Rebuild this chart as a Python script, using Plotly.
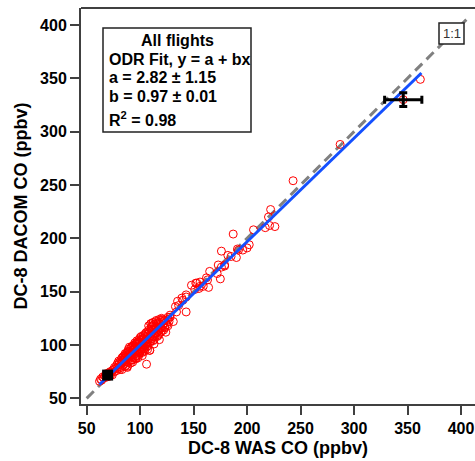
import plotly.graph_objects as go

# ---------------- data ----------------
WAS_CO = [
    62, 63, 64, 65, 66, 67, 68, 69, 70, 71, 72, 72,
    73, 74, 74, 75, 76, 76, 77, 78, 78, 79, 79, 80, 80, 80,
    81, 81, 82, 82, 83, 83, 84, 84, 85, 85, 85, 81,
    86, 86, 86, 87, 87, 87, 88, 88, 88, 89, 89, 89, 90, 90, 90, 90, 86, 88,
    91, 91, 91, 92, 92, 92, 93, 93, 93, 94, 94, 94, 95, 95, 95, 95, 91, 93,
    96, 96, 96, 97, 97, 97, 98, 98, 98, 99, 99, 99, 100, 100, 100, 100, 96, 98,
    101, 101, 101, 102, 102, 102, 103, 103, 103, 104, 104, 104, 105, 105, 105, 102, 104,
    106, 106, 106, 107, 107, 107, 108, 108, 108, 109, 109, 109, 110, 110, 110, 110, 107, 109,
    111, 111, 111, 112, 112, 112, 113, 113, 114, 114, 114, 115, 115, 115, 113,
    116, 116, 117, 117, 117, 118, 118, 118, 119, 119, 120, 120, 120, 116,
    121, 122, 122, 123, 123, 124, 125, 126, 127, 128, 124, 126,
    84, 87, 89, 92, 94, 97, 99, 101, 103, 105, 108, 111, 113, 116, 119, 121,
    83, 88, 93, 96, 100, 104, 106, 112, 117, 120, 123, 90, 95, 98, 102, 107,
    106, 109, 118, 122, 110, 112, 115, 126, 128, 131, 133, 134, 135, 136, 139, 140,
    143, 143, 143, 148, 151, 152, 153, 155, 156, 156, 159, 162, 163, 164, 165, 172,
    173, 175, 176, 176, 179, 179, 182, 185, 187, 190, 191, 192, 196, 200, 202, 206,
    217, 220, 221, 222, 226, 243, 287, 346, 362,
]
DACOM_CO = [
    66, 68, 67, 70, 69, 71, 73, 70, 72, 74, 71, 75,
    74, 76, 72, 77, 75, 79, 78, 76, 81, 79, 83, 78, 82, 85,
    80, 84, 86, 79, 83, 88, 81, 85, 87, 82, 90, 77,
    84, 88, 92, 86, 90, 81, 89, 84, 93, 87, 91, 96, 85, 89, 94, 98, 80, 79,
    88, 92, 97, 90, 95, 86, 93, 99, 89, 91, 96, 100, 88, 94, 98, 102, 83, 84,
    92, 97, 101, 95, 90, 104, 93, 99, 103, 96, 101, 91, 94, 98, 103, 107, 87, 88,
    96, 100, 105, 98, 103, 93, 100, 106, 96, 102, 108, 97, 99, 104, 110, 90, 94,
    101, 106, 112, 103, 108, 99, 105, 111, 118, 102, 107, 113, 104, 109, 115, 120, 96, 95,
    106, 112, 118, 108, 114, 121, 110, 105, 112, 117, 108, 111, 116, 122, 101,
    113, 118, 110, 115, 121, 114, 120, 124, 112, 117, 116, 121, 125, 108,
    118, 120, 114, 117, 123, 121, 119, 124, 122, 126, 112, 118,
    89, 92, 94, 98, 99, 102, 105, 108, 109, 111, 114, 117, 119, 120, 123, 124,
    77, 80, 86, 88, 93, 95, 98, 104, 109, 113, 116, 92, 97, 101, 106, 110,
    82, 95, 105, 123, 120, 121, 123, 126, 128, 122, 136, 131, 141, 137, 144, 142,
    131, 145, 147, 156, 152, 158, 158, 153, 159, 155, 155, 163, 161, 154, 169, 167,
    175, 162, 188, 173, 175, 174, 184, 183, 204, 182, 190, 189, 189, 191, 194, 208,
    210, 220, 212, 227, 211, 254, 288, 330, 349,
]

# ODR fit parameters, 1:1 reference, background marker and error-bar point
FIT_A = 2.82
FIT_B = 0.97
FIT_X = [62, 363]
ONE_TO_ONE = [50, 405]
BG_X = [69.6]
BG_Y = [71.8]
ERR_X = [346]
ERR_Y = [330]
ERR_DX = [17.4]
ERR_DY = [6.5]

X_TICKS = [50, 100, 150, 200, 250, 300, 350, 400]
Y_TICKS = [50, 100, 150, 200, 250, 300, 350, 400]

# ---------------- figure ----------------
W, H = 475, 461
ML, MR, MT, MB = 81, 0, 8, 57
PW, PH = W - ML - MR, H - MT - MB


def px(xp):
    return (xp - ML) / PW


def py(yp):
    return (H - MB - yp) / PH


FONT = "Liberation Sans, Arial, Helvetica, sans-serif"
AX = "#404040"

fig = go.Figure()

fig.add_trace(go.Scatter(
    x=ONE_TO_ONE, y=ONE_TO_ONE, mode="lines",
    line=dict(color="#808080", width=3, dash="10px,6px"),
    hoverinfo="skip", showlegend=False))

fig.add_trace(go.Scatter(
    x=WAS_CO, y=DACOM_CO, mode="markers",
    marker=dict(symbol="circle-open", size=8, color="#ff0000",
                line=dict(width=1, color="#ff0000")),
    showlegend=False))

fig.add_trace(go.Scatter(
    x=FIT_X, y=[FIT_A + FIT_B * v for v in FIT_X], mode="lines",
    line=dict(color="#1450ff", width=3),
    showlegend=False))

fig.add_trace(go.Scatter(
    x=BG_X, y=BG_Y, mode="markers",
    marker=dict(symbol="square", size=11, color="black"),
    showlegend=False))

fig.add_trace(go.Scatter(
    x=ERR_X, y=ERR_Y, mode="markers",
    marker=dict(size=1, color="black", opacity=0),
    error_x=dict(type="data", array=ERR_DX, color="black", thickness=3, width=4),
    error_y=dict(type="data", array=ERR_DY, color="black", thickness=3, width=4),
    showlegend=False))

axis_common = dict(
    showgrid=False, zeroline=False, showline=True, linecolor=AX, linewidth=2,
    ticks="outside", ticklen=9, tickwidth=2, tickcolor=AX,
    tickfont=dict(family=FONT, size=16, color="black", weight="bold"),
    mirror=False,
)

fig.update_layout(
    width=W, height=H,
    margin=dict(l=ML, r=MR, t=MT, b=MB, pad=0),
    plot_bgcolor="white", paper_bgcolor="white",
    xaxis=dict(range=[44.7, 413.1], tickvals=X_TICKS, **axis_common,
               title=dict(text="DC-8 WAS CO (ppbv)", standoff=5,
                          font=dict(family=FONT, size=18, color="black", weight="bold"))),
    yaxis=dict(range=[44.7, 415.9], tickvals=Y_TICKS, **axis_common,
               title=dict(text="DC-8 DACOM CO (ppbv)", standoff=8,
                          font=dict(family=FONT, size=18, color="black", weight="bold"))),
    showlegend=False,
)

# top frame line
fig.add_shape(type="line", xref="paper", yref="paper", x0=0, x1=1, y0=1, y1=1,
              line=dict(color=AX, width=2))

# statistics box
fig.add_shape(type="rect", xref="paper", yref="paper",
              x0=px(103), x1=px(251), y0=py(132), y1=py(28),
              line=dict(color="#222222", width=1.5), fillcolor="white", layer="above")

lines = [
    ("All flights", 177, 40.7, "center"),
    ("ODR Fit, y = a + bx", 106.5, 59.5, "left"),
    ("a = 2.82 \u00b1 1.15", 106.5, 77.5, "left"),
    ("b = 0.97 \u00b1 0.01", 106.5, 96.7, "left"),
    ("R<sup>2</sup> = 0.98", 106.5, 118.5, "left"),
]
for txt, xx, yy, anc in lines:
    fig.add_annotation(text=txt, xref="paper", yref="paper", x=px(xx), y=py(yy),
                       xanchor=anc, yanchor="middle", showarrow=False,
                       font=dict(family=FONT, size=16, color="black", weight="bold"))

# 1:1 label
fig.add_shape(type="rect", xref="paper", yref="paper",
              x0=px(439), x1=px(464), y0=py(44), y1=py(23),
              line=dict(color="#222222", width=1.5), fillcolor="white", layer="above")
fig.add_annotation(text="1:1", xref="paper", yref="paper", x=px(451.5), y=py(33.5),
                   xanchor="center", yanchor="middle", showarrow=False,
                   font=dict(family=FONT, size=13, color="#333333"))

fig.write_html("out.html")
